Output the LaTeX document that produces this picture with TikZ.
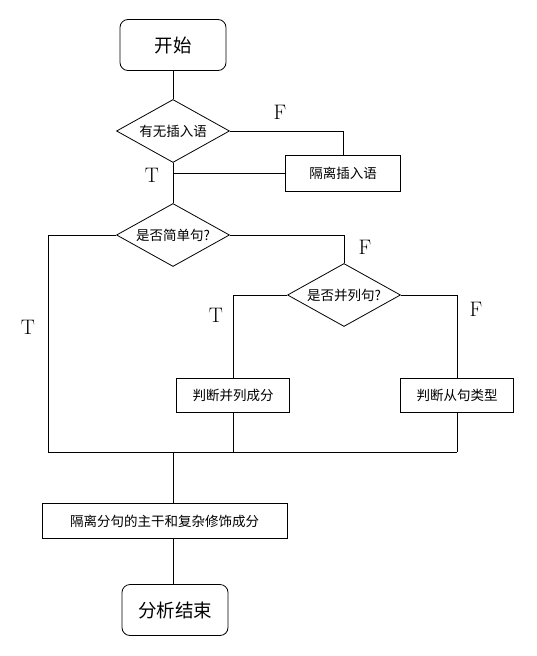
\documentclass[tikz,border=0pt]{standalone}
\usepackage{fontspec}
\newfontfamily\cjk{Noto Sans CJK SC}
\usetikzlibrary{shapes.geometric}
\tikzset{
  stepbox/.style={draw,rectangle,inner sep=0pt,font=\cjk\fontsize{13.5}{16}\selectfont},
  termbox/.style={draw,rectangle,rounded corners=8pt,minimum width=106pt,minimum height=51pt,inner sep=0pt,font=\cjk\fontsize{18.5}{22}\selectfont},
  testbox/.style={draw,diamond,aspect=1.8,minimum width=113pt,minimum height=63pt,inner sep=0pt,font=\cjk\fontsize{13.5}{16}\selectfont},
  tf/.style={font=\fontsize{21}{25}\selectfont}
}
\begin{document}
\begin{tikzpicture}[x=1pt,y=-1pt,thick]
			\useasboundingbox (0,0) rectangle (536,656);
			% nodes
			\node [termbox] (start) at (173,45) {开始};
			\node [testbox] (q1) at (173,131) {有无插入语};
			\node [stepbox,minimum width=115pt,minimum height=36pt] (sep) at (343,173) {隔离插入语};
			\node [testbox] (q2) at (173,235) {是否简单句?};
			\node [testbox] (q3) at (344,295) {是否并列句?};
			\node [stepbox,minimum width=113pt,minimum height=34pt] (ps1) at (233,395) {判断并列成分};
			\node [stepbox,minimum width=113pt,minimum height=34pt] (ps2) at (457,395) {判断从句类型};
			\node [stepbox,minimum width=245pt,minimum height=35pt] (main) at (164.5,521) {隔离分句的主干和复杂修饰成分};
			\node [termbox] (stop) at (175,610) {分析结束};
			\coordinate (jl) at (48,452);
			% connectors
			\draw (start) -- (q1);
			\draw (q1.east) -| (sep.north);
			\draw (sep.west) -- (q1 |- sep.west);
			\draw (q1.south) -- (q2.north);
			\draw (q2.west) -| (jl) -- (ps2 |- jl);
			\draw (q2.east) -| (q3.north);
			\draw (q3.west) -| (ps1.north);
			\draw (q3.east) -| (ps2.north);
			\draw (ps1.south) -- (ps1 |- jl);
			\draw (ps2.south) -- (ps2 |- jl);
			\draw (q2 |- jl) -- (q2 |- main.north);
			\draw (q2 |- main.south) -- (q2 |- stop.north);
			% labels
			\node [tf] (f1) at (280,112) {F};
			\node [tf] (t1) at (152,175) {T};
			\node [tf] (t2) at (28,327) {T};
			\node [tf] (f2) at (365,247) {F};
			\node [tf] (t3) at (216,315) {T};
			\node [tf] (f3) at (476,309) {F};
			\end{tikzpicture}
\end{document}
